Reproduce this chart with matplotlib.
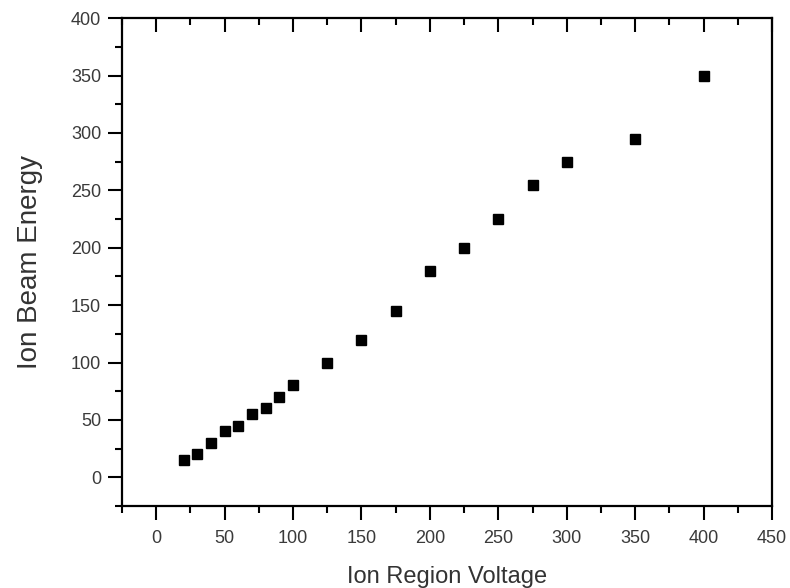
# -*- coding: utf-8 -*-
# Ion beam energy vs ion region voltage (Origin-style scatter)

import matplotlib.pyplot as plt
from matplotlib.ticker import MultipleLocator

# ------------------------------
# DATA
# ------------------------------
voltage = [20, 30, 40, 50, 60, 70, 80, 90, 100, 125, 150, 175,
           200, 225, 250, 275, 300, 350, 400]
energy = [15, 20, 30, 40, 45, 55, 60, 70, 80, 100, 120, 145,
          180, 200, 225, 255, 275, 295, 350]

plt.rcParams['font.family'] = ['Liberation Sans', 'DejaVu Sans']

fig = plt.figure(figsize=(7.9, 5.88), dpi=100)
ax = fig.add_axes([0.1544, 0.1395, 0.8228, 0.8295])

ax.plot(voltage, energy, 's', color='black', markersize=6.5, linestyle='none')

ax.set_xlim(-25, 450)
ax.set_ylim(-25, 400)
ax.xaxis.set_major_locator(MultipleLocator(50))
ax.xaxis.set_minor_locator(MultipleLocator(25))
ax.yaxis.set_major_locator(MultipleLocator(50))
ax.yaxis.set_minor_locator(MultipleLocator(25))

for s in ax.spines.values():
    s.set_linewidth(1.6)

# bottom / left ticks out, top ticks in, no right ticks
ax.tick_params(axis='both', which='major', length=10, width=1.5,
               labelsize=13, labelcolor='#3a3a3a', direction='out')
ax.tick_params(axis='both', which='minor', length=5, width=1.5, direction='out')
ax.tick_params(axis='x', which='both', top=True)
ax.tick_params(axis='y', which='both', right=False, pad=5)
ax.tick_params(axis='x', which='both', pad=7)

# top ticks pointing inwards
for t in ax.xaxis.get_major_ticks() + ax.xaxis.get_minor_ticks():
    t.tick2line.set_marker(3)

ax.set_xlabel('Ion Region Voltage', fontsize=17, color='#333333', labelpad=14)
ax.set_ylabel('Ion Beam Energy', fontsize=20, color='#333333', labelpad=20)

fig.savefig('out.png', dpi=100)
